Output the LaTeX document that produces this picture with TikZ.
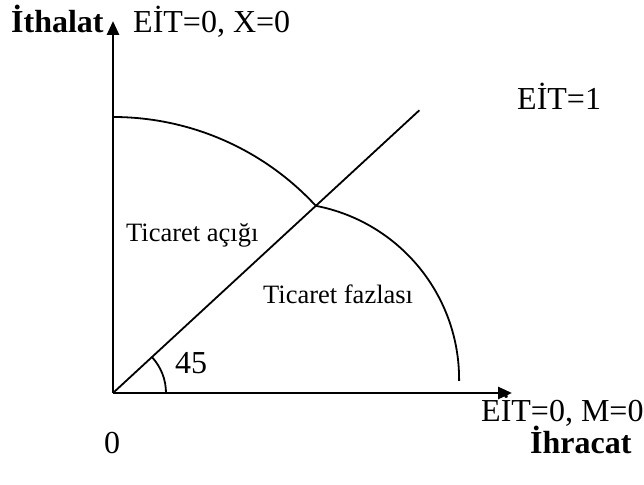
\documentclass[tikz,border=0pt]{standalone}
\usepackage{fontspec}
\setmainfont{Liberation Serif}
\usetikzlibrary{arrows.meta,calc}
\begin{document}
\begin{tikzpicture}[x=1pt,y=1pt,>={Triangle[length=14pt,width=12pt]},axis/.style={line width=2.7pt},curve/.style={line width=1.8pt},lbl/.style={anchor=base west,inner sep=0pt,font=\fontsize{32}{38}\selectfont},reg/.style={anchor=base west,inner sep=0pt,font=\fontsize{26.5}{32}\selectfont}]
\useasboundingbox (0,0) rectangle (644,484);
\coordinate (O) at (113,91);
\coordinate (Ytip) at (113,463);
\coordinate (Xtip) at (512,91);
\coordinate (P) at ($(O)+(42.7:276)$);
\coordinate (Lend) at ($(O)+(42.7:417)$);
\coordinate (Atop) at ($(O)+(90:276)$);
% axes and 45 degree line
\draw[axis,->] (O)--(Ytip);
\draw[axis,->] (O)--(Xtip);
\draw[curve] (O)--(Lend);
% curves
\draw[curve] (Atop) arc[start angle=90,end angle=42.7,radius=276];
\draw[curve] (P) arc[start angle=79.1,end angle=-0.5,radius=176.7];
\draw[curve] ($(O)+(53,0)$) arc[start angle=0,end angle=42.7,radius=53];
% labels
\node[lbl,font=\fontsize{32}{38}\selectfont\bfseries] (im) at (11,451) {İthalat};
\node[lbl] (ex0) at (133,451) {EİT=0, X=0};
\node[lbl] (e1) at (517,374) {EİT=1};
\node[reg] (acik) at (126,242) {Ticaret açığı};
\node[reg] (fazla) at (263,180) {Ticaret fazlası};
\node[lbl] (ang) at (175,110) {45};
\node[lbl] (em0) at (481,63) {EİT=0, M=0};
\node[lbl] (zero) at (104,31) {0};
\node[lbl,font=\fontsize{32}{38}\selectfont\bfseries] (ihr) at (530,31) {İhracat};
\end{tikzpicture}
\end{document}
